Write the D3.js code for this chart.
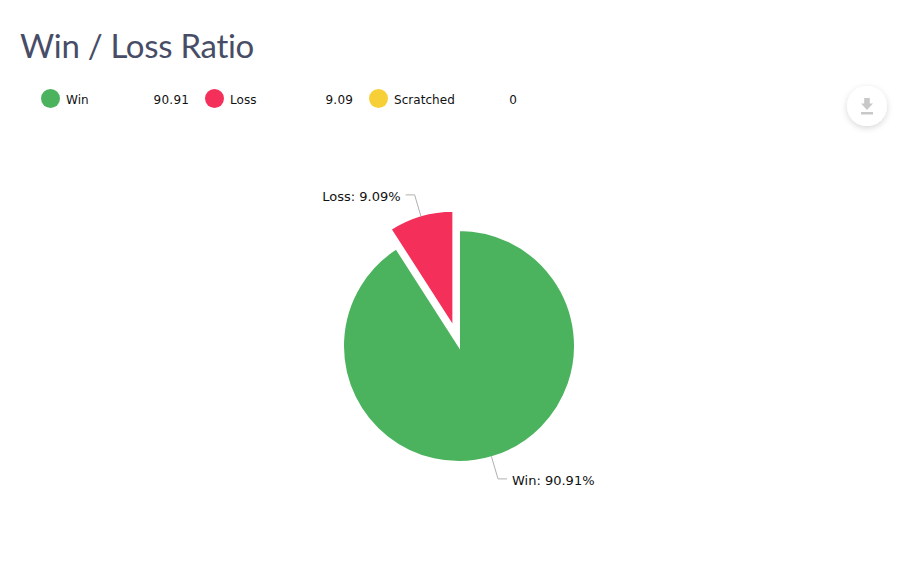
<!DOCTYPE html>
<html><head><meta charset="utf-8">
<script src="https://cdn.jsdelivr.net/npm/d3@7"></script>
<style>html,body{margin:0;padding:0;background:#fff}svg{display:block}</style></head>
<body><svg id="c" width="912" height="585"></svg>
<script>
const titleText = "Win / Loss Ratio";
const categories = ["Win", "Loss", "Scratched"];
const values = [90.91, 9.09, 0];
const valueLabels = ["90.91", "9.09", "0"];
const colors = ["#4bb35d", "#f42f59", "#f7cf36"];

const svg = d3.select("#c");
const defs = svg.append("defs");
const f = defs.append("filter").attr("id","sh").attr("x","-50%").attr("y","-50%").attr("width","200%").attr("height","200%");
f.append("feDropShadow").attr("dx",0).attr("dy",2).attr("stdDeviation",3).attr("flood-color","#000").attr("flood-opacity",0.16);

svg.append("text").attr("x",20).attr("y",58).attr("font-family","'Lato'").attr("font-size",33).attr("letter-spacing",-0.3)
  .attr("fill","#474d66").text(titleText);

const legendX = d3.scalePoint().domain(categories).range([50.5,378.5]);
const legendFont = "'DejaVu Sans'";
const lg = svg.append("g").selectAll("g").data(categories).join("g")
  .attr("transform",d=>`translate(${legendX(d)},98.5)`);
lg.append("circle").attr("r",9.5).attr("fill",(d,i)=>colors[i]);
lg.append("text").attr("x",15.5).attr("y",5).attr("font-family",legendFont).attr("font-size",12).attr("letter-spacing",0.05).attr("fill","#111").text(d=>d);
lg.append("text").attr("x",138.7).attr("y",5).attr("text-anchor","end").attr("font-family",legendFont).attr("font-size",12).attr("letter-spacing",0.25).attr("fill","#111").text((d,i)=>valueLabels[i]);

const cx=459, cy=346, R=116, explode=20;
const pie = d3.pie().sort(null).value(d=>d)(values);
const arc = d3.arc().innerRadius(0).outerRadius(R);
const g = svg.append("g").attr("transform",`translate(${cx},${cy})`);
const off = a => {const m=(a.startAngle+a.endAngle)/2; return [Math.sin(m),-Math.cos(m)];};
g.selectAll("path.s").data(pie.filter(p=>p.value>0)).join("path").attr("class","s")
  .attr("d",arc).attr("fill",(d,i)=>colors[i])
  .attr("stroke","#fff").attr("stroke-width",2)
  .attr("transform",(d,i)=>{ if(i!==1) return null; const o=off(d); return `translate(${o[0]*explode},${o[1]*explode})`; });

// leader lines and data labels
const leaders = [
  {i:0, side:1, text:"Win", extra:23.5},
  {i:1, side:-1, text:"Loss", extra:22.5}
];
const lab = svg.append("g").attr("transform",`translate(${cx},${cy})`);
leaders.forEach(l=>{
  const a=pie[l.i], o=off(a), e=l.i===1?explode:0;
  const r0=R+e-1, r1=r0+l.extra;
  const p0=[o[0]*r0,o[1]*r0], p1=[o[0]*r1,o[1]*r1], p2=[p1[0]+l.side*9,p1[1]];
  lab.append("path").attr("d",d3.line()([p0,p1,p2])).attr("fill","none").attr("stroke","#b0b0b0").attr("stroke-width",1);
  lab.append("text").attr("x",p2[0]+l.side*5).attr("y",p2[1]+6.5)
    .attr("text-anchor",l.side>0?"start":"end").attr("font-family",legendFont).attr("font-size",13).attr("fill","#111")
    .text(`${l.text}: ${values[l.i]}%`);
});

// download button
const b = svg.append("g").attr("transform","translate(867,106)");
b.append("circle").attr("r",20).attr("fill","#fff").attr("filter","url(#sh)");
b.append("path").attr("d","M-2.8,-8H2.8V-2.5H6L0,4L-6,-2.5H-2.8ZM-6,6H6V8.5H-6Z").attr("fill","#c8c8c8");
</script></body></html>
